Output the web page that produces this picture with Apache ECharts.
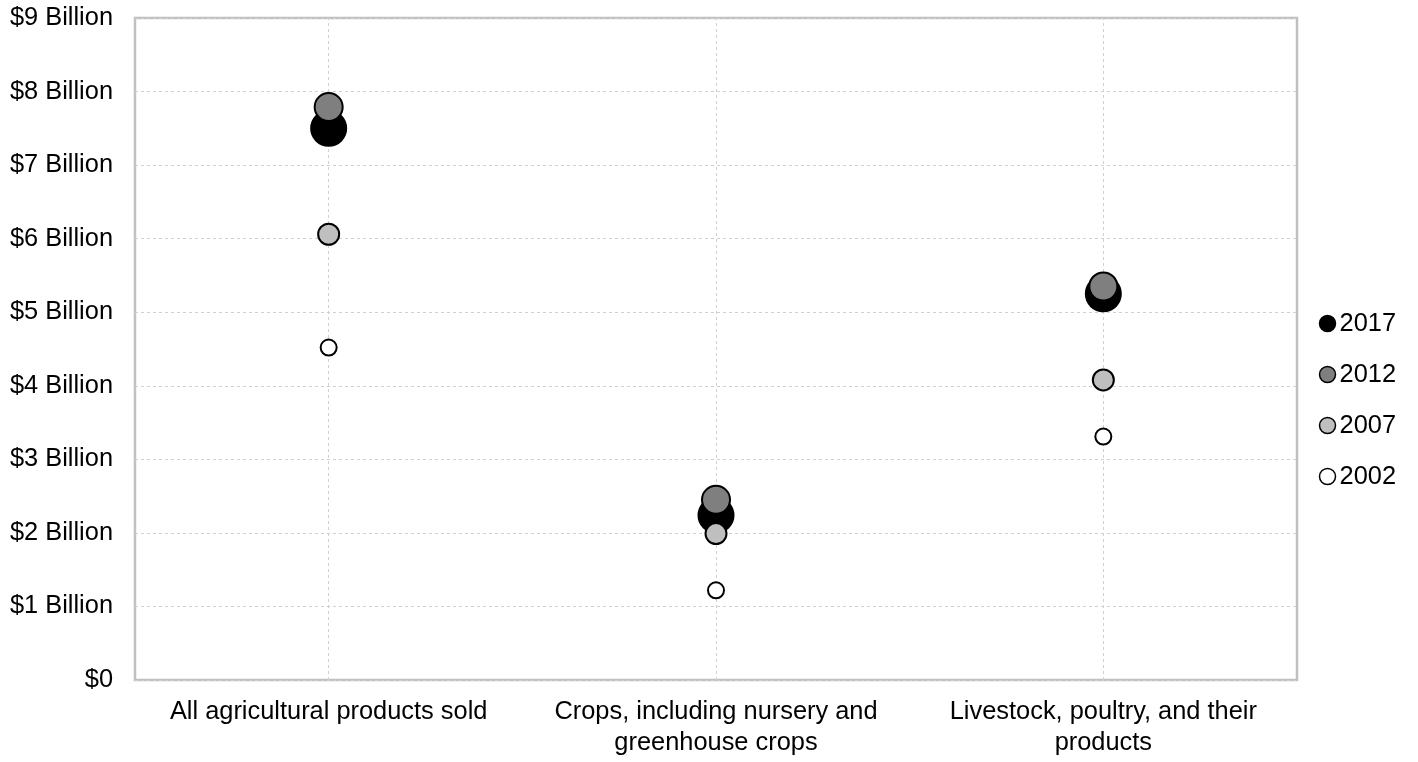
<!DOCTYPE html>
<html>
<head>
<meta charset="utf-8">
<script src="https://cdn.jsdelivr.net/npm/echarts@6/dist/echarts.min.js"></script>
<style>
html,body{margin:0;padding:0;background:#fff;}
#chart{width:1418px;height:762px;}
</style>
</head>
<body>
<div id="chart"></div>
<script>
var categories = ['All agricultural products sold', 'Crops, including nursery and\ngreenhouse crops', 'Livestock, poultry, and their\nproducts'];
var years = ['2017', '2012', '2007', '2002'];
var values2017 = [7.50, 2.24, 5.25];
var values2012 = [7.79, 2.45, 5.35];
var values2007 = [6.06, 1.99, 4.08];
var values2002 = [4.52, 1.22, 3.31];
var yTicks = [0, 1, 2, 3, 4, 5, 6, 7, 8, 9];

var fillColors = ['#000000', '#7f7f7f', '#bfbfbf', '#ffffff'];
var sizes = [35, 28, 21, 16];
var seriesValues = [values2017, values2012, values2007, values2002];

var font = 'Liberation Sans, Arial, sans-serif';
var chart = echarts.init(document.getElementById('chart'));

var series = years.map(function (y, i) {
  var s = {
    name: y,
    type: 'scatter',
    z: 3,
    symbol: 'circle',
    symbolSize: sizes[i],
    itemStyle: { color: fillColors[i], borderColor: '#000', borderWidth: 2, opacity: 1 },
    emphasis: { disabled: true },
    data: seriesValues[i]
  };
  if (i === 0) {
    s.markLine = {
      silent: true,
      z: 1,
      symbol: 'none',
      label: { show: false },
      lineStyle: { color: '#d0d0d0', type: [3, 3], width: 1 },
      emphasis: { disabled: true },
      animation: false,
      data: categories.map(function (c) { return { xAxis: c }; })
    };
  }
  return s;
});

chart.setOption({
  animation: false,
  backgroundColor: '#fff',
  grid: {
    left: 135, top: 18, right: 121, bottom: 82,
    show: true, borderColor: '#c0c0c0', borderWidth: 2.5, backgroundColor: 'transparent'
  },
  legend: {
    orient: 'vertical',
    right: 17,
    top: 306,
    itemWidth: 16,
    itemHeight: 16,
    itemGap: 26,
    icon: 'circle',
    textStyle: { fontFamily: font, fontSize: 25.4, color: '#000', padding: [0, 0, 0, -1] },
    data: years.map(function (y, i) {
      return { name: y, itemStyle: { color: fillColors[i], borderColor: '#000', borderWidth: 1.5 } };
    })
  },
  xAxis: {
    type: 'category',
    data: categories,
    axisLine: { show: false },
    axisTick: { show: false },
    splitLine: { show: false },
    axisLabel: { fontFamily: font, fontSize: 25.4, color: '#000', margin: 16, lineHeight: 31, interval: 0 }
  },
  yAxis: {
    type: 'value',
    min: 0,
    max: yTicks[yTicks.length - 1],
    interval: 1,
    axisLine: { show: false },
    axisTick: { show: false },
    splitLine: { show: true, lineStyle: { color: '#d0d0d0', type: [3, 3], width: 1 } },
    axisLabel: {
      fontFamily: font, fontSize: 25.4, color: '#000', margin: 22,
      formatter: function (v) { return v === 0 ? '$0' : '$' + v + ' Billion'; }
    }
  },
  series: series
});
</script>
</body>
</html>
